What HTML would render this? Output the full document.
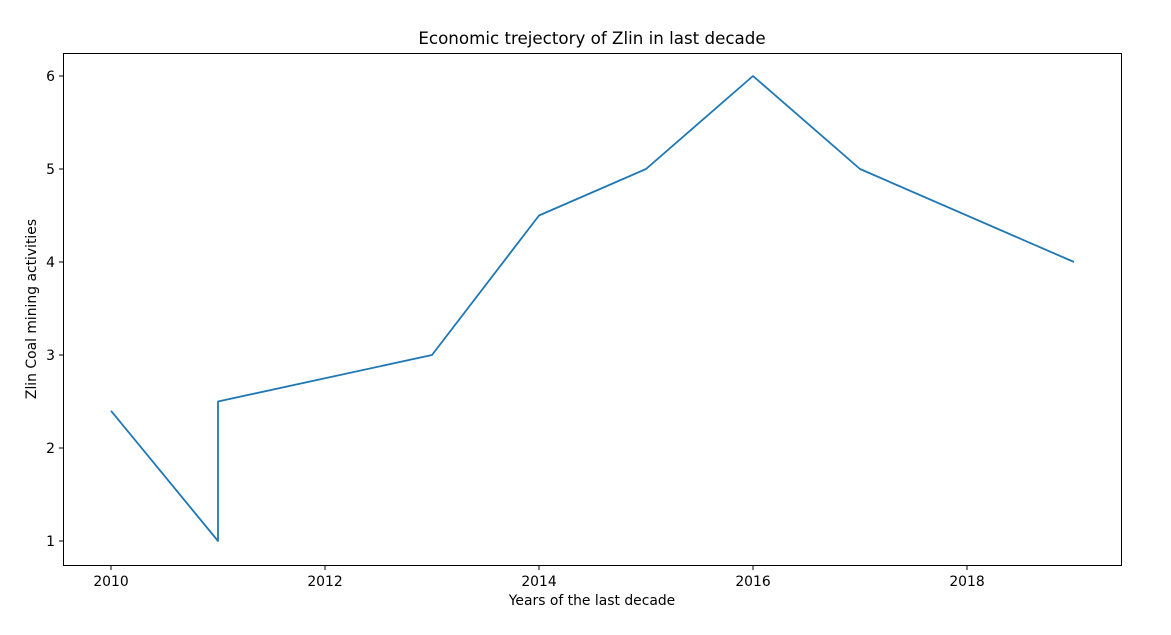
<!DOCTYPE html>
<html><head><meta charset="utf-8"><style>
body{margin:0;background:#fff;}
svg text{font-family:"DejaVu Sans","Liberation Sans",sans-serif;fill:#000;}
</style></head><body>
<svg id="chart" width="1171" height="630" xmlns="http://www.w3.org/2000/svg">
<rect x="0" y="0" width="1171" height="630" fill="#fff"/>
<text x="592" y="44" font-size="16.7" text-anchor="middle">Economic trejectory of Zlin in last decade</text>
<text x="592" y="605" font-size="13.9" text-anchor="middle">Years of the last decade</text>
<text x="0" y="0" font-size="13.9" text-anchor="middle" transform="translate(36,309) rotate(-90)">Zlin Coal mining activities</text>
<g id="ticks"></g>
<polyline id="series" fill="none" stroke="#1f77b4" stroke-width="1.8" stroke-linejoin="round"/>
<rect x="63.5" y="53.5" width="1058" height="512" fill="none" stroke="#000" stroke-width="1"/>
</svg>
<script>
const years=[2010,2011,2011,2013,2014,2015,2016,2017,2019];
const values=[2.4,1,2.5,3,4.5,5,6,5,4];
const xTicks=[2010,2012,2014,2016,2018];
const yTicks=[1,2,3,4,5,6];
const X=v=>111+(v-2010)*107;
const Y=v=>541-(v-1)*93;
const ns="http://www.w3.org/2000/svg";
const g=document.getElementById('ticks');
function mk(t,a){const e=document.createElementNS(ns,t);for(const k in a)e.setAttribute(k,a[k]);g.appendChild(e);return e;}
xTicks.forEach(t=>{
 const l=mk('line',{x1:X(t),x2:X(t),y1:566,y2:570,stroke:'#000'});
 
 
 const s=mk('text',{x:X(t),y:586,'font-size':13.9,'text-anchor':'middle'});
 s.textContent=t;
 
 
});
yTicks.forEach(t=>{
 const l=mk('line',{x1:59,x2:63,y1:Y(t),y2:Y(t),stroke:'#000'});
 
 
 const s=mk('text',{x:55,y:Y(t)+5,'font-size':13.9,'text-anchor':'end'});
 s.textContent=t;
 
 
});
document.getElementById('series').setAttribute('points',years.map((y,i)=>X(y)+','+Y(values[i])).join(' '));
</script>
</body></html>
